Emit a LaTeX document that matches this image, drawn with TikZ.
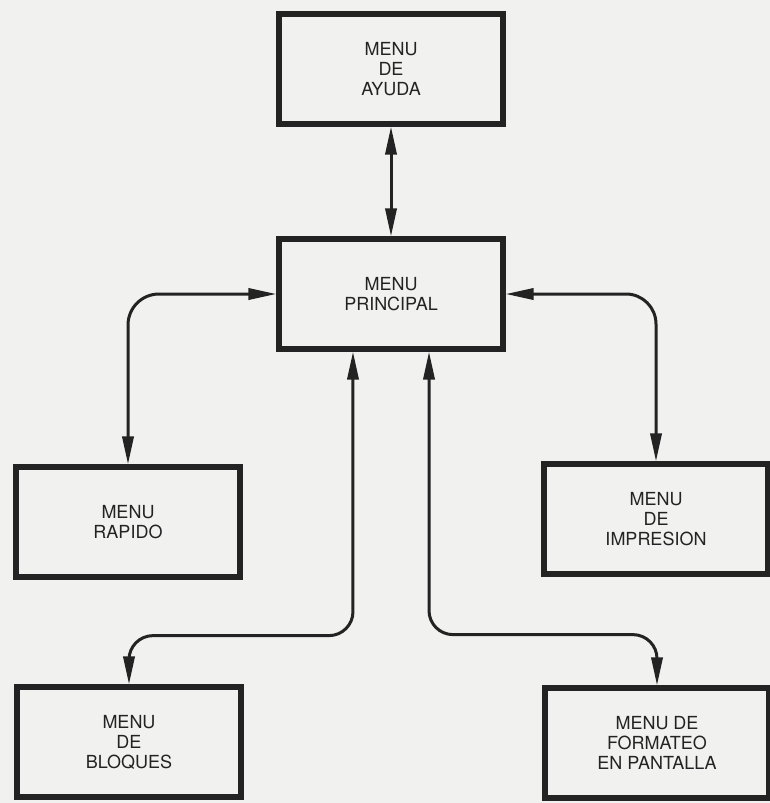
\documentclass[tikz,border=0pt]{standalone}
\usepackage{fontspec}
\setmainfont{TeX Gyre Heros}
\usepackage{color}
\usetikzlibrary{arrows.meta}
\definecolor{ink}{RGB}{35,35,35}
\definecolor{paper}{RGB}{241,241,239}

\begin{document}
\begin{tikzpicture}[x=0.025cm, y=-0.025cm,
        >={Triangle[length=0.7cm,width=0.28cm]}, node distance=5.625cm,
        menu node/.style={rectangle, draw=ink, text=ink, line width=0.13cm, minimum width=5.6cm, minimum height=2.75cm, inner sep=0pt, align=center, font=\fontsize{12.8}{14.2}\selectfont},
        link/.style={<->, draw=ink, line width=0.075cm}]
        \useasboundingbox (0,0) rectangle (770,803);
        \fill[paper] (0,0) rectangle (770,803);
        % menus
        \node[menu node] (principal) at (391,294) {MENU\\PRINCIPAL};
        \node[menu node] (ayuda) [above of=principal] {MENU\\DE\\AYUDA};
        \node[menu node] (rapido) at (128,522) {MENU\\RAPIDO};
        \node[menu node] (impresion) at (656,519) {MENU\\DE\\IMPRESION};
        \node[menu node] (bloques) at (129,742) {MENU\\DE\\BLOQUES};
        \node[menu node] (formateo) at (657,743) {MENU DE\\FORMATEO\\EN PANTALLA};
        % connections
        \draw[link] (ayuda) -- (principal);
        \draw[link, rounded corners=0.775cm] (principal.west) -| (rapido.north);
        \draw[link, rounded corners=0.75cm] (principal.east) -| (impresion.north);
        \draw[link, rounded corners=0.6cm] ([xshift=-0.95cm]principal.south) -- ++(0,284) -| (bloques.north);
        \draw[link, rounded corners=0.6cm] ([xshift=0.95cm]principal.south) -- ++(0,283) -| (formateo.north);
    \end{tikzpicture}
\end{document}
